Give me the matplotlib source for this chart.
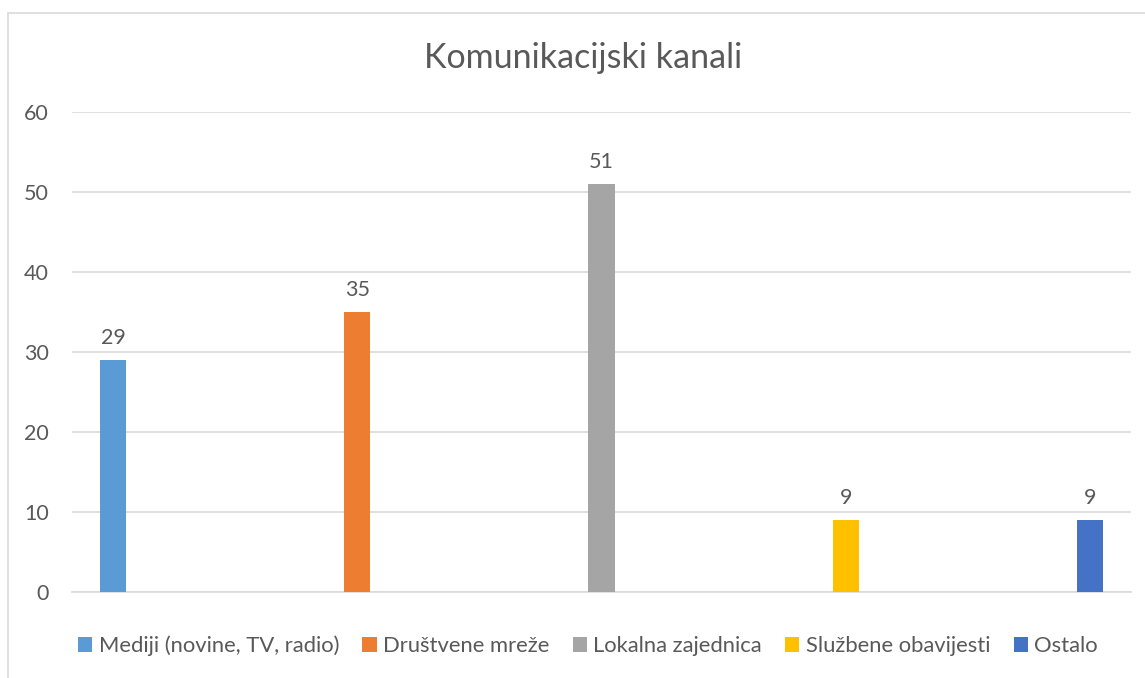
import matplotlib
matplotlib.use("Agg")
import matplotlib.pyplot as plt
from matplotlib.patches import Rectangle
import numpy as np

# Chart data
title = "Komunikacijski kanali"
series_names = [
    "Mediji (novine, TV, radio)",
    "Društvene mreže",
    "Lokalna zajednica",
    "Službene obavijesti",
    "Ostalo",
]
values = [29, 35, 51, 9, 9]
colors = ["#5B9BD5", "#ED7D31", "#A5A5A5", "#FFC000", "#4472C4"]
y_ticks = [0, 10, 20, 30, 40, 50, 60]

TEXT = "#595959"
GRID = "#D9D9D9"

plt.rcParams["font.family"] = ["Lato", "DejaVu Sans"]

W, H = 1145, 678
fig = plt.figure(figsize=(W / 100, H / 100), dpi=100)

# chart frame (cropped at right/bottom like the source)
fig.patches.append(
    Rectangle((8 / W, -0.1), 1.2, 1 - 13 / H + 0.1, transform=fig.transFigure,
              fill=False, edgecolor=GRID, linewidth=1.2, zorder=0)
)

ax = fig.add_axes([72 / W, 1 - 592 / H, (1131 - 72) / W, (592 - 112) / H])

x = np.arange(len(values))
for i, (name, v, c) in enumerate(zip(series_names, values, colors)):
    ax.bar(x[i], v, width=0.107, color=c, label=name, zorder=3)
    ax.annotate(str(v), (x[i], v), xytext=(0, 9), textcoords="offset points",
                ha="center", va="bottom", fontsize=15.5, color=TEXT)

ax.set_xlim(-0.168, len(values) - 1 + 0.168)
ax.set_ylim(0, 60)
ax.set_yticks(y_ticks)
ax.set_xticks([])
ax.yaxis.grid(True, color=GRID, linewidth=1.2, zorder=0)
for s in ax.spines.values():
    s.set_visible(False)
ax.spines["bottom"].set_visible(True)
ax.spines["bottom"].set_color(GRID)
ax.spines["bottom"].set_linewidth(1.2)
ax.tick_params(axis="y", length=0, pad=16.5, labelsize=15.5, labelcolor=TEXT)

fig.text(583 / W, 1 - 58 / H, title, ha="center", va="center",
         fontsize=24.5, color=TEXT)

fig.legend(loc="center", bbox_to_anchor=(588 / W, 1 - 646 / H), ncol=5,
           frameon=False, fontsize=15.8, labelcolor=TEXT, handlelength=0.65,
           handleheight=0.65, handletextpad=0.3, columnspacing=1.05)

fig.savefig("out.png", dpi=100)
